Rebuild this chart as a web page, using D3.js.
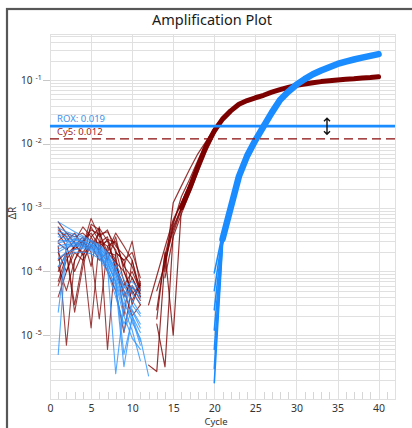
<!DOCTYPE html>
<html>
<head>
<meta charset="utf-8">
<script src="https://cdn.jsdelivr.net/npm/d3@7"></script>
<style>
  body { margin: 0; background: #fff; overflow: hidden; }
  text { font-family: "Noto Sans", "Open Sans", sans-serif; }
</style>
</head>
<body>
<div id="chart"></div>
<script>
// ----- data -----
const cycleTicks = [0, 5, 10, 15, 20, 25, 30, 35, 40]
const decadeTicks = [1e-5, 1e-4, 1e-3, 1e-2, 1e-1]
const thresholds = [
  { name: 'ROX', value: 0.019 },
  { name: 'Cy5', value: 0.012 }
]

// ROX baseline noise, cycles 1..
const roxNoise = [
  [6.0e-4, 5.0e-4, 4.2e-4, 3.6e-4, 3.1e-4, 2.6e-4, 2.0e-4, 1.3e-4, 7.5e-5, 4.5e-5, 3.2e-5],
  [4.2e-4, 3.9e-4, 3.5e-4, 3.2e-4, 2.9e-4, 2.4e-4, 1.8e-4, 1.0e-4, 5.0e-5, 2.4e-5, 1.3e-5],
  [3.5e-4, 3.3e-4, 3.1e-4, 2.9e-4, 2.7e-4, 2.2e-4, 1.4e-4, 6.5e-5, 2.0e-5, 9.0e-6, 6.0e-6],
  [2.8e-4, 3.0e-4, 2.9e-4, 2.7e-4, 2.4e-4, 2.0e-4, 1.5e-4, 8.0e-5, 3.0e-5, 5.5e-5, 3.8e-5],
  [2.3e-5, 2.5e-4, 2.6e-4, 2.5e-4, 2.3e-4, 1.9e-4, 1.2e-4, 5.0e-5, 1.2e-5, 2.5e-5, 1.5e-5],
  [5.0e-6, 2.8e-4, 3.2e-4, 3.0e-4, 2.6e-4, 2.1e-4, 1.6e-4, 9.0e-5, 4.0e-5, 6.0e-5, 4.2e-5],
  [2.0e-4, 2.4e-4, 2.5e-4, 2.4e-4, 2.2e-4, 1.8e-4, 1.2e-4, 2.5e-6, 3.0e-5, 2.0e-5, 8.0e-6],
  [1.6e-4, 2.0e-4, 2.2e-4, 2.3e-4, 2.1e-4, 1.7e-4, 1.1e-4, 6.0e-5, 3.2e-6, 2.0e-5, 1.1e-5],
  [4.8e-4, 4.2e-4, 3.8e-4, 3.4e-4, 3.0e-4, 2.5e-4, 1.9e-4, 1.1e-4, 6.0e-5, 3.5e-5, 2.2e-5],
  [3.8e-4, 3.6e-4, 3.3e-4, 3.0e-4, 2.7e-4, 2.3e-4, 1.7e-4, 9.0e-5, 3.8e-5, 1.6e-5, 9.0e-6, 2.3e-6],
  [2.5e-4, 2.7e-4, 2.7e-4, 2.6e-4, 2.5e-4, 2.1e-4, 1.4e-4, 7.0e-5, 2.6e-5, 1.2e-5, 4.0e-6],
  [1.2e-4, 1.8e-4, 2.0e-4, 2.0e-4, 1.9e-4, 1.6e-4, 1.0e-4, 4.0e-5, 1.5e-5, 3.0e-5, 2.0e-5],
  [3.0e-4, 3.1e-4, 2.8e-4, 2.5e-4, 2.3e-4, 1.9e-4, 1.3e-4, 7.0e-5, 5.0e-6, 1.8e-5, 7.0e-6],
  [2.2e-4, 2.6e-4, 2.8e-4, 2.8e-4, 2.6e-4, 2.3e-4, 1.7e-4, 1.1e-4, 5.5e-5, 7.0e-5, 5.0e-5]
]

// Cy5 baseline noise, cycles 1..11
const cy5Noise = [
  [5.0e-4, 3.0e-4, 4.0e-4, 2.5e-4, 6.8e-4, 3.5e-4, 4.5e-4, 2.0e-4, 1.5e-4, 2.0e-4, 8.0e-5],
  [2.5e-4, 7.0e-6, 1.5e-4, 3.0e-4, 4.0e-4, 2.5e-4, 3.0e-4, 1.2e-4, 6.0e-5, 1.0e-4, 5.0e-5],
  [1.0e-4, 2.0e-4, 3.0e-5, 1.5e-4, 5.5e-4, 4.5e-4, 1.5e-4, 3.5e-4, 1.0e-4, 4.5e-5, 6.0e-5],
  [6.0e-5, 1.5e-4, 2.5e-4, 3.5e-4, 1.2e-4, 5.0e-4, 6.0e-6, 2.0e-4, 1.5e-4, 3.0e-5, 7.0e-5],
  [4.0e-4, 2.5e-4, 1.0e-4, 2.0e-4, 1.3e-5, 3.0e-4, 2.5e-4, 1.5e-4, 4.0e-5, 8.0e-5, 4.0e-5],
  [3.0e-4, 4.0e-4, 3.5e-4, 4.0e-4, 3.0e-4, 2.2e-4, 3.2e-4, 2.8e-4, 1.2e-4, 3.0e-4, 6.0e-5],
  [2.0e-4, 1.0e-4, 2.0e-4, 1.5e-4, 2.5e-4, 4.0e-4, 2.0e-4, 1.8e-4, 2.0e-5, 1.5e-4, 4.0e-5],
  [1.5e-4, 2.0e-4, 2.3e-5, 1.2e-4, 3.5e-4, 2.0e-4, 1.0e-4, 5.0e-5, 1.1e-5, 6.0e-5, 3.5e-5],
  [7.0e-5, 1.8e-4, 2.5e-4, 3.0e-4, 2.0e-4, 1.8e-5, 2.5e-4, 3.0e-4, 1.2e-4, 8.0e-5, 4.5e-5],
  [4.5e-4, 3.5e-4, 2.2e-4, 3.0e-4, 4.5e-4, 3.8e-4, 4.2e-4, 2.5e-4, 1.8e-4, 1.2e-4, 5.5e-5],
  [4.0e-5, 1.0e-4, 2.5e-4, 2.0e-4, 3.0e-4, 2.8e-4, 3.5e-4, 1.0e-4, 5.0e-5, 2.0e-5, 3.0e-5],
  [2.8e-4, 2.2e-4, 3.0e-4, 5.0e-4, 3.5e-4, 4.8e-4, 3.0e-4, 2.2e-4, 7.0e-5, 3.5e-5, 6.5e-5],
  [6.0e-4, 4.0e-4, 2.8e-4, 1.8e-4, 2.6e-4, 1.5e-4, 2.0e-4, 1.4e-4, 1.0e-4, 5.0e-5, 3.0e-5],
  [1.2e-4, 5.0e-5, 1.5e-4, 2.5e-4, 5.0e-4, 3.0e-4, 2.0e-4, 4.0e-4, 2.5e-4, 1.5e-4, 5.0e-5]
]

// Cy5 early rise, thin lines: [first cycle, values...]
const cy5Rise = [
  [12, 3.0e-5, 8.5e-5, 2.4e-4, 6.5e-4, 1.2e-3, 2.2e-3, 4.6e-3, 9.0e-3, 0.016, 0.025],
  [12, 3.4e-6, 2.7e-6, 1.6e-4, 5.0e-4, 1.0e-3, 2.0e-3, 4.2e-3, 8.5e-3, 0.0155, 0.024],
  [13, 1.5e-5, 3.2e-6, 4.0e-4, 9.5e-4, 1.9e-3, 4.0e-3, 8.0e-3, 0.015, 0.024],
  [13, 1.8e-5, 2.0e-4, 1.0e-5, 1.0e-3, 2.1e-3, 4.4e-3, 9.0e-3, 0.016, 0.025],
  [13, 5.0e-5, 1.3e-4, 5.5e-4, 1.5e-3, 2.8e-3, 5.5e-3, 0.0105, 0.018, 0.026],
  [14, 1.0e-4, 1.2e-3, 2.2e-3, 4.0e-3, 7.0e-3, 0.011, 0.017, 0.025],
  [14, 8.0e-5, 3.5e-4, 8.0e-4, 1.7e-3, 3.6e-3, 7.5e-3, 0.014, 0.023],
  [13, 2.5e-5, 1.8e-4, 6.0e-4, 1.2e-3, 2.4e-3, 5.0e-3, 9.8e-3, 0.017, 0.026],
  [14, 1.4e-4, 4.5e-4, 1.0e-3, 2.0e-3, 4.4e-3, 9.2e-3, 0.016, 0.0245]
]

// Cy5 main band, cycles 16..40
const cy5Band = [1.0e-3, 2.0e-3, 4.4e-3, 9.2e-3, 0.016, 0.0245, 0.033, 0.042, 0.048,
  0.053, 0.058, 0.065, 0.071, 0.077, 0.083, 0.087, 0.091, 0.095, 0.098,
  0.101, 0.103, 0.105, 0.108, 0.110, 0.113]

// ROX early rise, cycles 20..22
const roxRise = [
  [1.8e-6, 2.6e-4, 0.98e-3],
  [3.0e-6, 2.9e-4, 1.0e-3],
  [6.0e-6, 3.1e-4, 1.02e-3],
  [1.2e-5, 3.3e-4, 1.05e-3],
  [2.5e-5, 3.5e-4, 1.08e-3],
  [5.0e-5, 3.7e-4, 1.1e-3],
  [9.5e-5, 3.9e-4, 1.12e-3]
]

// ROX main band, cycles 21..40
const roxBand = [3.2e-4, 1.0e-3, 3.1e-3, 6.5e-3, 0.0114, 0.0188, 0.031, 0.049, 0.066, 0.085,
  0.104, 0.124, 0.142, 0.160, 0.180, 0.196, 0.211, 0.226, 0.241, 0.256]

// ----- layout -----
const width = 412
const height = 428
const plot = { left: 50, right: 395, top: 34, bottom: 399 }

const roxColor = '#1a8cff'
const cy5Color = '#7d0000'

const x = d3.scaleLinear().domain([0, 42]).range([plot.left, plot.right])
const y = d3.scaleLog().domain([1e-6, 0.53]).range([plot.bottom, plot.top])

const svg = d3.select('#chart').append('svg').attr('width', width).attr('height', height)

// panel frame (runs off the right and bottom)
svg.append('rect')
  .attr('x', 7).attr('y', 9).attr('width', 440).attr('height', 440)
  .attr('fill', '#fff').attr('stroke', '#575757').attr('stroke-width', 2.2)

svg.append('text')
  .attr('x', 212).attr('y', 25)
  .attr('text-anchor', 'middle')
  .attr('font-size', 14.5)
  .attr('fill', '#1a1a1a')
  .text('Amplification Plot')

svg.append('defs').append('clipPath').attr('id', 'clip')
  .append('rect')
  .attr('x', plot.left).attr('y', plot.top)
  .attr('width', plot.right - plot.left).attr('height', plot.bottom - plot.top)

// grid
const grid = svg.append('g').attr('stroke', '#e0e0e0').attr('stroke-width', 1)
grid.selectAll('.hg').data(y.ticks()).enter().append('line')
  .attr('x1', plot.left).attr('x2', plot.right)
  .attr('y1', d => Math.round(y(d)) + 0.5).attr('y2', d => Math.round(y(d)) + 0.5)
grid.selectAll('.vg').data(cycleTicks).enter().append('line')
  .attr('x1', d => Math.round(x(d)) + 0.5).attr('x2', d => Math.round(x(d)) + 0.5)
  .attr('y1', plot.top).attr('y2', plot.bottom)
grid.append('rect')
  .attr('x', plot.left + 0.5).attr('y', plot.top + 0.5)
  .attr('width', plot.right - plot.left).attr('height', plot.bottom - plot.top)
  .attr('fill', 'none')

// minor cycle ticks along the bottom
const minorCycles = d3.range(1, 42).filter(d => d % 5 !== 0)
grid.selectAll('.mt').data(minorCycles).enter().append('line')
  .attr('stroke', '#d6d6d6')
  .attr('x1', d => Math.round(x(d)) + 0.5).attr('x2', d => Math.round(x(d)) + 0.5)
  .attr('y1', plot.bottom - 7).attr('y2', plot.bottom)

// x axis labels
const xAxis = d3.axisBottom(x).tickValues(cycleTicks).tickSize(0).tickPadding(6)
const gx = svg.append('g').attr('transform', `translate(0,${plot.bottom})`).call(xAxis)
gx.select('.domain').remove()
gx.selectAll('text').attr('font-size', 10.5).attr('fill', '#333')
  .attr('font-family', '"Noto Sans", sans-serif')

svg.append('text')
  .attr('x', 216).attr('y', 424.5)
  .attr('text-anchor', 'middle').attr('font-size', 9.5).attr('fill', '#333')
  .text('Cycle')

// y axis: 10 with superscript exponent
const gy = svg.append('g')
gy.selectAll('.yt').data(decadeTicks).enter().append('line')
  .attr('x1', 43).attr('x2', plot.left)
  .attr('y1', d => Math.round(y(d)) + 0.5).attr('y2', d => Math.round(y(d)) + 0.5)
  .attr('stroke', '#c8c8c8')
const yl = gy.selectAll('.yl').data(decadeTicks).enter().append('text')
  .attr('x', 21).attr('y', d => y(d) + 3.5)
  .attr('font-size', 10).attr('fill', '#333')
yl.append('tspan').text('10')
yl.append('tspan').attr('dx', 3).attr('dy', -4).attr('font-size', 7)
  .text(d => '-' + Math.round(-Math.log10(d)))

svg.append('text')
  .attr('transform', 'translate(16,213) rotate(-90)')
  .attr('text-anchor', 'middle').attr('font-size', 10).attr('fill', '#333')
  .text('ΔR')

// curves
const line = d3.line()
  .defined(d => d.v != null && d.v > 0)
  .x(d => x(d.c))
  .y(d => y(d.v))

function toPoints (start, values) {
  return values.map((v, i) => ({ c: start + i, v }))
}

const curves = svg.append('g').attr('clip-path', 'url(#clip)')
  .attr('fill', 'none').attr('stroke-linejoin', 'round').attr('stroke-linecap', 'round')

curves.selectAll('.cy5n').data(cy5Noise).enter().append('path')
  .attr('d', d => line(toPoints(1, d)))
  .attr('stroke', cy5Color).attr('stroke-width', 1.1).attr('stroke-opacity', 0.75)

curves.selectAll('.roxn').data(roxNoise).enter().append('path')
  .attr('d', d => line(toPoints(1, d)))
  .attr('stroke', '#2b94ff').attr('stroke-width', 1.1).attr('stroke-opacity', 0.8)

curves.selectAll('.cy5r').data(cy5Rise).enter().append('path')
  .attr('d', d => line(toPoints(d[0], d.slice(1))))
  .attr('stroke', cy5Color).attr('stroke-width', 1.2).attr('stroke-opacity', 0.8)

curves.append('path')
  .attr('d', line(toPoints(16, cy5Band)))
  .attr('stroke', cy5Color).attr('stroke-width', 5)

curves.selectAll('.roxr').data(roxRise).enter().append('path')
  .attr('d', d => line(toPoints(20, d)))
  .attr('stroke', roxColor).attr('stroke-width', 1.6)

curves.append('path')
  .attr('d', line(toPoints(21, roxBand)))
  .attr('stroke', roxColor).attr('stroke-width', 6.5)

// threshold lines
const [rox, cy5] = thresholds
svg.append('line')
  .attr('x1', plot.left).attr('x2', plot.right)
  .attr('y1', y(rox.value)).attr('y2', y(rox.value))
  .attr('stroke', roxColor).attr('stroke-width', 2.6)
svg.append('line')
  .attr('x1', plot.left).attr('x2', plot.right)
  .attr('y1', y(cy5.value)).attr('y2', y(cy5.value))
  .attr('stroke', '#8a0a0a').attr('stroke-width', 1.2).attr('stroke-dasharray', '9,5')

svg.append('text')
  .attr('x', 57).attr('y', y(rox.value) - 4)
  .attr('font-size', 9.5).attr('fill', '#3d8fe8')
  .text(`${rox.name}: ${rox.value}`)
svg.append('text')
  .attr('x', 57).attr('y', y(cy5.value) - 4)
  .attr('font-size', 9.5).attr('fill', '#9a1c24')
  .text(`${cy5.name}: ${cy5.value}`)

// threshold drag handle
const hx = 327
const hy = y(rox.value)
svg.append('path')
  .attr('d', `M${hx},${hy - 8} L${hx},${hy + 8} M${hx - 3},${hy - 5} L${hx},${hy - 8} L${hx + 3},${hy - 5} M${hx - 3},${hy + 5} L${hx},${hy + 8} L${hx + 3},${hy + 5}`)
  .attr('stroke', '#111').attr('stroke-width', 1.4).attr('fill', 'none')
</script>
</body>
</html>
